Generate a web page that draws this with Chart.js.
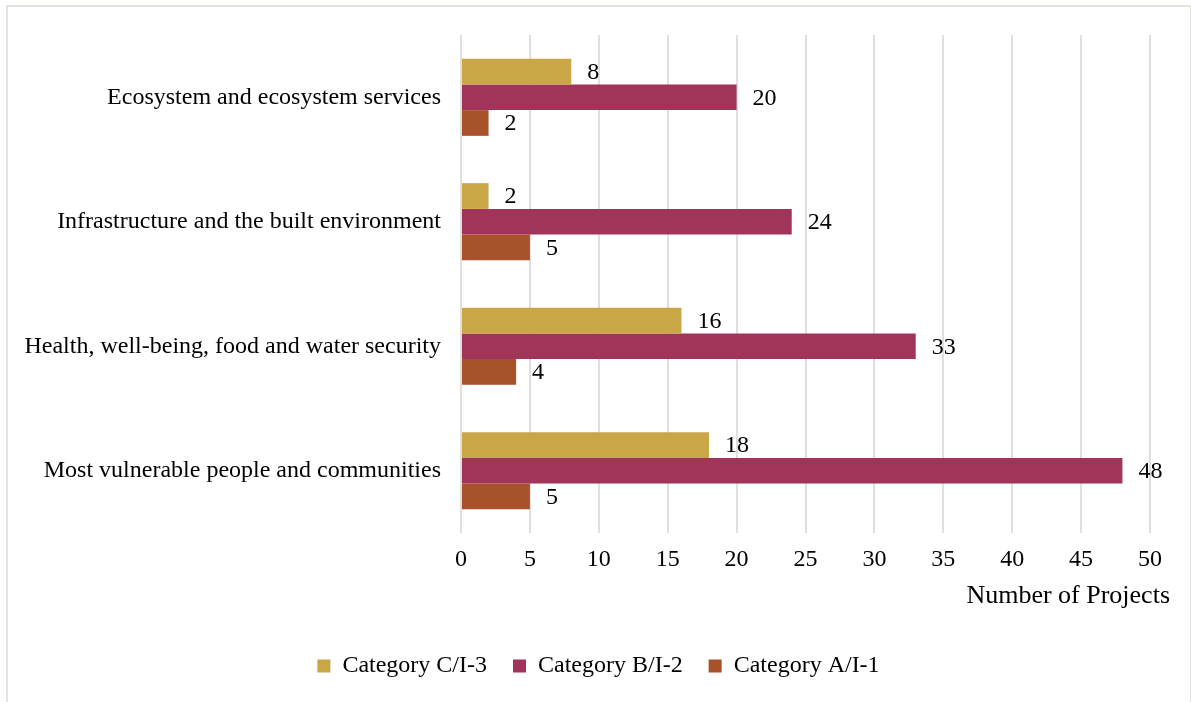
<!DOCTYPE html>
<html>
<head>
<meta charset="utf-8">
<title>Number of Projects by Theme</title>
<script src="https://cdn.jsdelivr.net/npm/chart.js@4/dist/chart.umd.min.js"></script>
<style>
    html, body { margin: 0; padding: 0; background: #ffffff; overflow: hidden; }
    #wrap { position: relative; width: 1191px; height: 702px; }
    #frame {
        position: absolute; left: 6px; top: 5px; width: 1182px; height: 720px;
        border: 2px solid #e6e2de; pointer-events: none;
    }
</style>
</head>
<body>
<div id="wrap">
    <canvas id="projectsChart" width="1191" height="702"></canvas>
    <div id="frame"></div>
</div>
<script>
// Themes, top to bottom
const themes = [
    'Ecosystem and ecosystem services',
    'Infrastructure and the built environment',
    'Health, well-being, food and water security',
    'Most vulnerable people and communities'
];

// Project counts per category
const categoryC = [8, 2, 16, 18];
const categoryB = [20, 24, 33, 48];
const categoryA = [2, 5, 4, 5];

const seriesNames = ['Category C/I-3', 'Category B/I-2', 'Category A/I-1'];
const seriesColors = ['#C9A646', '#A13559', '#A8522B'];

const axisTitle = 'Number of Projects';
const xMin = 0;
const xMax = 50;
const xStep = 5;

const serif = "'Liberation Serif', 'Times New Roman', serif";

// Value labels just past the end of each bar
const barValueLabels = {
    id: 'barValueLabels',
    afterDatasetsDraw(chart) {
        const ctx = chart.ctx;
        ctx.save();
        ctx.font = '24px ' + serif;
        ctx.fillStyle = '#000';
        ctx.textAlign = 'left';
        ctx.textBaseline = 'middle';
        chart.data.datasets.forEach((ds, i) => {
            chart.getDatasetMeta(i).data.forEach((bar, j) => {
                ctx.fillText(String(ds.data[j]), bar.x + 16, bar.y + 1);
            });
        });
        ctx.restore();
    }
};

// Axis title sits under the ticks, flush right past the plot edge
const xAxisTitle = {
    id: 'xAxisTitle',
    afterDraw(chart) {
        const ctx = chart.ctx;
        const area = chart.chartArea;
        ctx.save();
        ctx.font = '26px ' + serif;
        ctx.fillStyle = '#000';
        ctx.textAlign = 'right';
        ctx.textBaseline = 'alphabetic';
        ctx.fillText(axisTitle, area.right + 20, area.bottom + 70);
        ctx.restore();
    }
};

// Long theme names run into the left padding; widen the y scale's clip box
const wideThemeLabels = {
    id: 'wideThemeLabels',
    afterLayout(chart) {
        chart.scales.y.left = 0;
    }
};

function initProjectsChart() {
    const ctx = document.getElementById('projectsChart');
    if (!ctx) return;

    const seriesData = [categoryC, categoryB, categoryA];

    new Chart(ctx.getContext('2d'), {
        type: 'bar',
        data: {
            labels: themes,
            datasets: seriesData.map((values, i) => ({
                label: seriesNames[i],
                data: values,
                backgroundColor: seriesColors[i],
                borderWidth: 0,
                categoryPercentage: 0.62,
                barPercentage: 1.0
            }))
        },
        options: {
            indexAxis: 'y',
            responsive: false,
            animation: false,
            layout: { padding: { top: 35, right: 41, bottom: 14, left: 47 } },
            plugins: {
                legend: {
                    position: 'bottom',
                    labels: {
                        font: { family: serif, size: 24 },
                        color: '#000',
                        boxWidth: 13,
                        boxHeight: 13,
                        padding: 26
                    }
                },
                tooltip: { enabled: false }
            },
            scales: {
                x: {
                    min: xMin,
                    max: xMax,
                    grid: { color: '#e2deda', lineWidth: 2, drawTicks: false },
                    border: { display: false },
                    ticks: {
                        stepSize: xStep,
                        padding: 12,
                        color: '#000',
                        font: { family: serif, size: 24 }
                    },
                    afterFit: scale => { scale.height = 95; }
                },
                y: {
                    grid: { display: false, drawTicks: false },
                    border: { display: false },
                    ticks: {
                        padding: 20,
                        color: '#000',
                        font: { family: serif, size: 24 }
                    },
                    afterFit: scale => { scale.width = 414; }
                }
            }
        },
        plugins: [barValueLabels, xAxisTitle, wideThemeLabels]
    });
}

initProjectsChart();
</script>
</body>
</html>
